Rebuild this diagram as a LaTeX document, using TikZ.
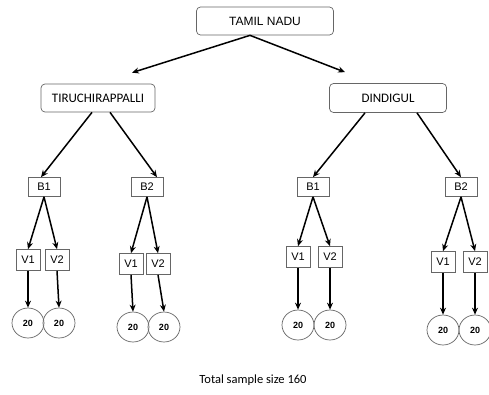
\documentclass[tikz,border=0pt]{standalone}
\usepackage{fontspec}
\setmainfont{Liberation Sans}
\newfontfamily\calfont{Carlito}
\usetikzlibrary{arrows.meta,shapes.geometric}

\begin{document}
\begin{tikzpicture}[x=1pt,y=-1pt,
		region/.style={draw=black!60,rounded corners=4pt,line width=0.7pt,inner sep=0pt},
		blockbox/.style={draw=black!60,line width=0.7pt,inner sep=0pt,minimum width=32pt,minimum height=19pt,font=\fontsize{11}{12}\selectfont},
		villbox/.style={draw=black!60,line width=0.7pt,inner sep=0pt,minimum width=24pt,minimum height=21pt,font=\fontsize{11}{12}\selectfont},
		samp/.style={draw=black!60,line width=0.7pt,ellipse,inner sep=0pt,minimum width=32pt,minimum height=30pt,font=\bfseries\fontsize{9}{10}\selectfont},
		arr/.style={-{Stealth[length=7pt,width=6pt]},line width=1.5pt}]
				\clip (0,0) rectangle (489,394);
				\fill[white] (0,0) rectangle (489,394);
				% state and districts
				\node[region,minimum width=137pt,minimum height=28pt,font=\fontsize{12}{13}\selectfont] (tn) at (265,21) {TAMIL NADU};
				\node[region,minimum width=114pt,minimum height=28pt,font=\calfont\fontsize{13}{14}\selectfont] (tri) at (98,98) {TIRUCHIRAPPALLI};
				\node[region,minimum width=117pt,minimum height=29pt,font=\calfont\fontsize{13}{14}\selectfont] (din) at (388,98) {DINDIGUL};
				\draw[arr] ([xshift=-15pt]tn.south) -- ([xshift=34pt,yshift=11pt]tri.north);
				\draw[arr] ([xshift=-15pt]tn.south) -- ([xshift=-43pt,yshift=11pt]din.north);
				% blocks
				\node[blockbox] (tb1) at (44,187) {B1};
				\node[blockbox] (tb2) at (147,187) {B2};
				\node[blockbox] (db1) at (313,187) {B1};
				\node[blockbox] (db2) at (461,187) {B2};
				\draw[arr] ([xshift=-6pt]tri.south) -- ([xshift=-3pt]tb1.north);
				\draw[arr] ([xshift=12pt]tri.south) -- ([xshift=10pt]tb2.north);
				\draw[arr] ([xshift=-23pt]din.south) -- (db1.north);
				\draw[arr] ([xshift=29pt]din.south) -- (db2.north);
				% villages
				\node[villbox] (tv1) at (28,260) {V1};
				\node[villbox] (tv2) at (57,260) {V2};
				\node[villbox] (tv3) at (131,264) {V1};
				\node[villbox] (tv4) at (158,264) {V2};
				\node[villbox] (dv1) at (298,257) {V1};
				\node[villbox] (dv2) at (330,257) {V2};
				\node[villbox] (dv3) at (443,262) {V1};
				\node[villbox] (dv4) at (475,262) {V2};
				\draw[arr] (tb1.south) -- (tv1.north);
				\draw[arr] (tb1.south) -- (tv2.north);
				\draw[arr] (tb2.south) -- (tv3.north);
				\draw[arr] (tb2.south) -- (tv4.north);
				\draw[arr] (db1.south) -- (dv1.north);
				\draw[arr] (db1.south) -- (dv2.north);
				\draw[arr] (db2.south) -- (dv3.north);
				\draw[arr] (db2.south) -- (dv4.north);
				% samples
				\node[samp] (ts1) at (28,323) {20};
				\node[samp] (ts2) at (59,323) {20};
				\node[samp] (ts3) at (133,327) {20};
				\node[samp] (ts4) at (164,327) {20};
				\node[samp] (ds1) at (298,325) {20};
				\node[samp] (ds2) at (330,325) {20};
				\node[samp] (ds3) at (443,330) {20};
				\node[samp] (ds4) at (475,330) {20};
				\foreach \v/\s in {tv1/ts1,tv2/ts2,tv3/ts3,tv4/ts4,dv1/ds1,dv2/ds2,dv3/ds3,dv4/ds4}
					\draw[arr] (\v.south) -- (\s.north);
				\node[font=\calfont\fontsize{12.5}{14}\selectfont] (tot) at (253,380) {Total sample size 160};
			\end{tikzpicture}
\end{document}
